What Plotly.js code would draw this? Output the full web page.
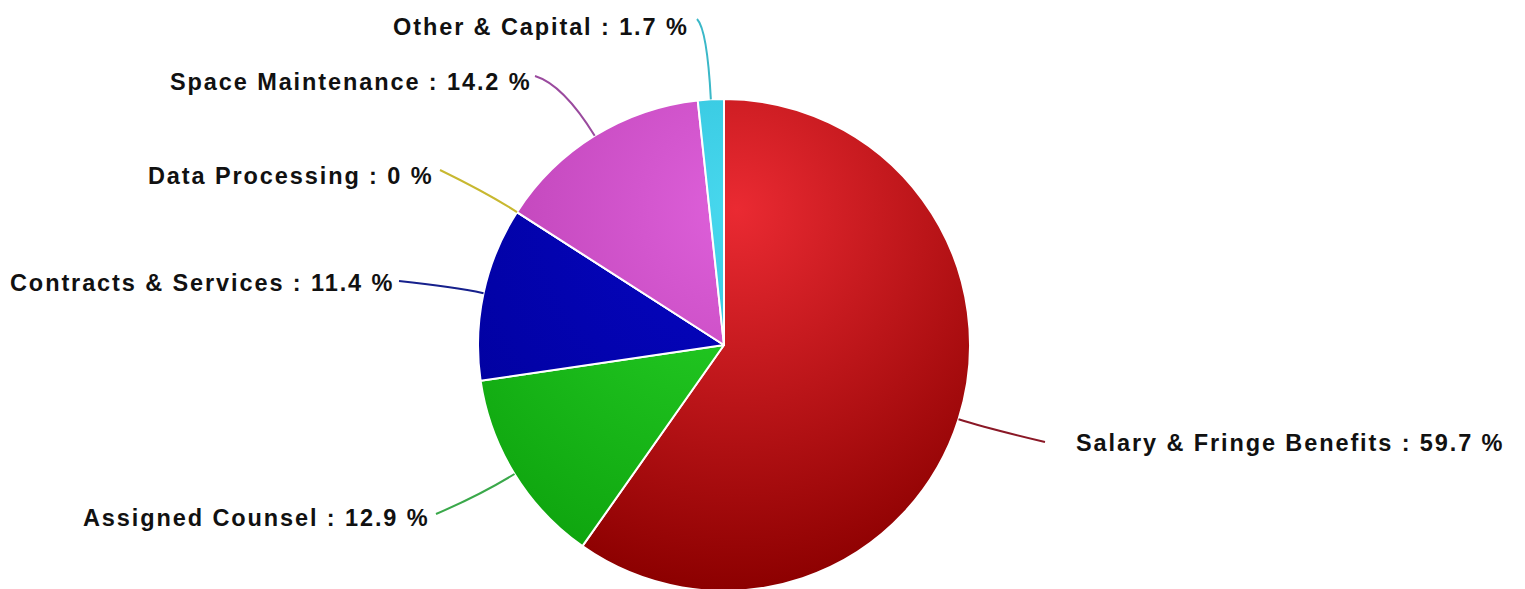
<!DOCTYPE html>
<html>
<head>
<meta charset="utf-8">
<script src="https://cdn.plot.ly/plotly-3.0.1.min.js"></script>
<style>
  html, body { margin: 0; padding: 0; background: #ffffff; overflow: hidden; }
  #chart { width: 1525px; height: 600px; }
  .annotation-text { letter-spacing: 1.9px; }
</style>
</head>
<body>
<div id="chart"></div>
<script>
// ---- data ----
const categories = ['Salary & Fringe Benefits', 'Assigned Counsel', 'Contracts & Services', 'Data Processing', 'Space Maintenance', 'Other & Capital'];
const percentValues = [59.7, 12.9, 11.4, 0, 14.2, 1.7];
const percentLabels = ['59.7', '12.9', '11.4', '0', '14.2', '1.7'];

// ---- styles ----
const sliceColors = ['#c8141c', '#16c016', '#0000b0', '#c8b830', '#cc4cc8', '#30c8e0'];
const gradientStops = [
  ['#ea2a32', '#8c0000'],
  ['#2ad62a', '#0ea40e'],
  ['#0606c4', '#00009a'],
  ['#dccc38', '#b0a000'],
  ['#de60da', '#b238aa'],
  ['#48d8ee', '#1cb0cc']
];
const leaderColors = ['#8a1826', '#3aa84a', '#16208c', '#c8b830', '#9a4a9e', '#3ab8c8'];
// label layout (pixels): text anchor (tx,ty), side, and leader-line end (lx,ly)
const labelLayout = [
  {tx: 1074, ty: 443, side: 'left',  lx: 1045, ly: 442, bend: 30},
  {tx: 432,  ty: 518, side: 'right', lx: 436,  ly: 514, bend: 40},
  {tx: 396,  ty: 283, side: 'right', lx: 399,  ly: 281, bend: 30},
  {tx: 435,  ty: 176, side: 'right', lx: 440,  ly: 170, bend: 35},
  {tx: 534,  ty: 82,  side: 'right', lx: 535,  ly: 76,  bend: 60},
  {tx: 691,  ty: 27,  side: 'right', lx: 697,  ly: 19,  bend: 70}
];

const W = 1525, H = 600;
const CX = 724, CY = 345, R = 246;

const px = x => x / W;
const py = y => 1 - y / H;

const total = percentValues.reduce((a, b) => a + b, 0);
let cum = 0;
const shapes = [];
const annotations = [];
percentValues.forEach((v, i) => {
  const mid = (cum + v / 2) / total * 2 * Math.PI;
  cum += v;
  const dx = Math.sin(mid), dy = -Math.cos(mid);
  const sx = CX + R * dx, sy = CY + R * dy;
  const L = labelLayout[i];
  const qx = CX + (R + L.bend) * dx, qy = CY + (R + L.bend) * dy;
  shapes.push({
    type: 'path', xref: 'paper', yref: 'paper',
    path: `M ${px(sx)},${py(sy)} Q ${px(qx)},${py(qy)} ${px(L.lx)},${py(L.ly)}`,
    line: {color: leaderColors[i], width: 2}
  });
  annotations.push({
    xref: 'paper', yref: 'paper', x: px(L.tx), y: py(L.ty),
    xanchor: L.side, yanchor: 'middle', showarrow: false,
    text: `${categories[i]} : ${percentLabels[i]} %`,
    font: {family: 'Liberation Sans, Arial, sans-serif', size: 23.5, color: '#111111', weight: 'bold'}
  });
});

const trace = {
  type: 'pie',
  labels: categories,
  values: percentValues,
  sort: false,
  direction: 'clockwise',
  rotation: 0,
  textinfo: 'none',
  hoverinfo: 'label+percent',
  marker: {colors: sliceColors, line: {color: '#ffffff', width: 2}},
  domain: {x: [(CX - R) / W, (CX + R) / W], y: [py(CY + R), py(CY - R)]},
  showlegend: false
};

const layout = {
  width: W, height: H,
  margin: {l: 0, r: 0, t: 0, b: 0},
  paper_bgcolor: '#ffffff',
  showlegend: false,
  shapes: shapes,
  annotations: annotations
};

Plotly.newPlot('chart', [trace], layout, {displayModeBar: false, staticPlot: true}).then(gd => {
  const cd0 = gd.calcdata[0][0];
  const gx = cd0.cx, gy = cd0.cy, gr = cd0.r;
  const svg = gd.querySelector('svg.main-svg');
  const NS = 'http://www.w3.org/2000/svg';
  let defs = svg.querySelector('defs');
  if (!defs) { defs = document.createElementNS(NS, 'defs'); svg.insertBefore(defs, svg.firstChild); }
  gradientStops.forEach((st, i) => {
    const g = document.createElementNS(NS, 'radialGradient');
    g.setAttribute('id', 'sliceGrad' + i);
    g.setAttribute('gradientUnits', 'userSpaceOnUse');
    g.setAttribute('cx', gx + 0.05 * gr);
    g.setAttribute('cy', gy - 0.55 * gr);
    g.setAttribute('r', 1.55 * gr);
    const s0 = document.createElementNS(NS, 'stop');
    s0.setAttribute('offset', '0'); s0.setAttribute('stop-color', st[0]);
    const s1 = document.createElementNS(NS, 'stop');
    s1.setAttribute('offset', '1'); s1.setAttribute('stop-color', st[1]);
    g.appendChild(s0); g.appendChild(s1);
    defs.appendChild(g);
  });
  gd.querySelectorAll('g.slice').forEach(s => {
    const d = s.__data__;
    const path = s.querySelector('path.surface');
    if (d && path) path.style.fill = `url(#sliceGrad${d.i})`;
  });
});
</script>
</body>
</html>
